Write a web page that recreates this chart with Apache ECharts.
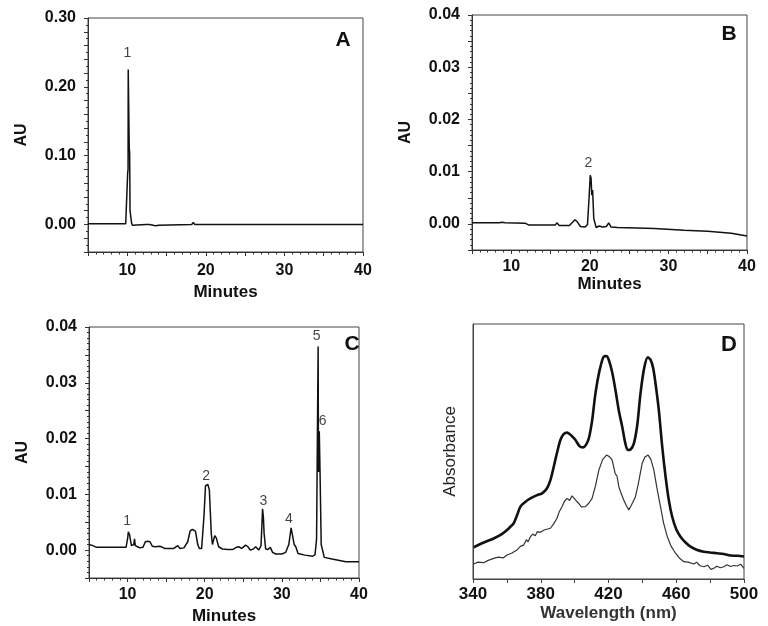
<!DOCTYPE html>
<html><head><meta charset="utf-8">
<script src="https://cdn.jsdelivr.net/npm/echarts@6/dist/echarts.min.js"></script>
<style>html,body{margin:0;padding:0;background:#fff}#c{width:768px;height:626px}</style>
</head><body><div id="c"></div>
<script>
// ---- Panel A: chromatogram ----
const timeA = [5, 9.8, 10.0, 10.05, 10.1, 10.12, 10.22, 10.25, 10.3, 10.35, 10.45, 10.55, 10.65, 10.8, 12.4, 12.6, 12.8, 13.0, 13.3, 13.6, 14.0, 14.2, 18.2, 18.4, 18.6, 40];
const auA   = [0.001, 0.001, 0.003, 0.075, 0.08, 0.225, 0.225, 0.11, 0.105, 0.02, 0.018, 0.002, -0.001, 0.0005, 0, -0.002, 0, -0.002, -0.001, -0.002, -0.001, 0, 0, 0.003, 0, 0];
const peaksA = [[10.0, 0.249, '1']];

// ---- Panel B ----
const timeB = [5, 8.5, 8.8, 9.2, 11.8, 12.2, 14, 15.6, 15.8, 16.1, 17.4, 17.8, 18.1, 18.4, 18.8, 19.4, 19.7, 19.9, 20.05, 20.15, 20.25, 20.35, 20.5, 20.8, 21.2, 21.4, 21.6, 22.1, 22.4, 22.7, 23.5, 26, 28.2, 28.4, 32, 35, 36.5, 38, 40];
const auB   = [0.0002, 0.0002, 0.0003, 0.0002, 0.0001, -0.0002, -0.0002, -0.0002, 0.0002, -0.0003, -0.0003, 0.0003, 0.0008, 0.0004, -0.0005, -0.0006, -0.0001, 0.005, 0.0093, 0.0088, 0.0055, 0.0065, 0.001, -0.0007, -0.0004, -0.0001, -0.0006, -0.0005, 0.0002, -0.0006, -0.0007, -0.0008, -0.0009, -0.0012, -0.0012, -0.0014, -0.0016, -0.0018, -0.0023];
const peaksB = [[19.8, 0.0116, '2']];

// ---- Panel C ----
const timeC = [5, 5.5, 6, 9.8, 10.0, 10.1, 10.25, 10.5, 10.8, 10.9, 11.0, 11.3, 11.6, 12.0, 12.3, 12.6, 12.9, 13.2, 13.6, 14.2, 14.8, 15.0, 16.0, 16.5, 16.8, 17.3, 17.8, 18.1, 18.4, 18.8, 19.1, 19.3, 19.6, 19.9, 20.1, 20.4, 20.6, 20.85, 21.0, 21.3, 21.5, 21.8, 22.3, 23.0, 23.6, 24.1, 24.4, 24.8, 25.3, 25.6, 25.9, 26.3, 26.6, 27.0, 27.3, 27.5, 27.6, 27.7, 27.9, 28.2, 28.5, 28.8, 29.2, 30.0, 30.5, 30.9, 31.2, 31.4, 31.6, 31.8, 32.1, 33.0, 34.0, 34.3, 34.5, 34.7, 34.75, 34.85, 34.95, 35.1, 35.5, 36.5, 38.3, 40];
const auC   = [0.0010, 0.0008, 0.0005, 0.0005, 0.0020, 0.0033, 0.0028, 0.0008, 0.0010, 0.0020, 0.0008, 0.0006, 0.0004, 0.0005, 0.0015, 0.0016, 0.0015, 0.0007, 0.0006, 0.0007, 0.0003, 0.0002, 0.0003, 0.0008, 0.0003, 0.0004, 0.0015, 0.0034, 0.0037, 0.0034, 0.0010, 0.0003, 0.0003, 0.0060, 0.0115, 0.0118, 0.0108, 0.0030, 0.0010, 0.0026, 0.0022, 0.0006, 0.0002, 0.0001, 0.0001, 0.0005, 0.0006, 0.0003, 0.0009, 0.0006, 0.0000, 0.0002, 0.0006, 0.0000, 0.0008, 0.0074, 0.0060, 0.0030, 0.0002, 0.0001, 0.0005, -0.0004, -0.0007, -0.0007, -0.0004, 0.0010, 0.0040, 0.0025, 0.0010, 0.0006, -0.0006, -0.0009, -0.0011, -0.0008, 0.0020, 0.0365, 0.0140, 0.0213, 0.0140, 0.0010, -0.0013, -0.0016, -0.0021, -0.0021];
const peaksC = [[9.95, 0.0052, '1'], [20.2, 0.0133, '2'], [27.6, 0.0088, '3'], [30.9, 0.0055, '4'], [34.5, 0.0383, '5'], [35.3, 0.0232, '6']];

// ---- Panel D: absorbance spectra (arbitrary units) ----
const waveThick = [340.4, 346, 352.2, 357, 360.1, 362.5, 364, 366, 368, 371, 373.9, 377.5, 380.8, 383.7, 385.8, 387.7, 389.6, 391.6, 393.5, 395.6, 398, 400.5, 403, 405, 406.7, 408.4, 410.3, 412.3, 414.8, 417.2, 418.8, 420.2, 422.2, 424.1, 426.1, 428.1, 430, 431.4, 433, 435, 437, 438.9, 441, 443.2, 444.8, 446.4, 448, 449.7, 451.7, 453.7, 455.6, 457.6, 460, 462.5, 465.5, 468.4, 472, 476.3, 480, 484.2, 488, 492.1, 496, 500];
const absThick  = [12.4, 14.2, 15.9, 17.6, 19.2, 20.8, 21.8, 25.0, 28.4, 30.3, 31.6, 32.8, 33.6, 35.6, 39.0, 44.1, 49.5, 54.5, 56.8, 57.4, 56.3, 54.5, 52.0, 51.6, 52.6, 55.2, 62.0, 72.8, 82.0, 87.2, 87.4, 85.9, 81.0, 74.1, 66.0, 59.7, 53.0, 50.6, 50.8, 53.2, 60.5, 72.8, 82.5, 86.9, 86.0, 82.6, 75.5, 66.3, 52.0, 40.1, 31.0, 24.4, 19.5, 16.6, 14.3, 12.7, 11.5, 10.7, 10.4, 10.1, 9.8, 9.2, 9.1, 8.8];
const waveThin = [340.4, 343, 346.3, 349, 352.2, 355, 358, 360.1, 363, 366, 368, 369.9, 371.5, 372.5, 373.9, 375.3, 376.8, 378, 379.8, 382, 385.7, 387.5, 389.6, 391, 392.6, 394, 395.6, 397, 398.5, 399.5, 401, 402.4, 404, 406.4, 408.5, 410.3, 412.3, 414.3, 416.5, 418.8, 420.5, 422.1, 424, 425, 426.1, 427.5, 429, 430.5, 432, 433.5, 435.9, 437.5, 439.9, 441.5, 443.4, 445, 446.8, 448.5, 450.7, 452.5, 454.7, 457, 459.6, 462, 464.5, 467, 470.4, 472, 474, 476.3, 478.5, 480.5, 482.2, 484, 486, 488.1, 490, 492, 494, 496, 498, 500];
const absThin  = [5.9, 6.6, 6.4, 7.3, 8.1, 8.6, 8.3, 9.4, 10.2, 11.4, 12.8, 13.3, 15.4, 14.6, 16.6, 17.6, 17.0, 18.6, 18.3, 19.2, 19.9, 21.5, 23.8, 26.5, 28.4, 30.5, 31.6, 30.8, 32.6, 31.8, 30.6, 29.7, 28.3, 28.4, 29.8, 31.6, 36.5, 42.7, 46.8, 48.6, 48.0, 46.7, 41.2, 40.4, 36.2, 33.5, 31.0, 28.8, 27.1, 28.9, 32.3, 37.0, 45.4, 47.8, 48.6, 46.9, 42.7, 36.0, 28.4, 22.0, 16.6, 12.8, 10.1, 8.1, 6.8, 6.6, 5.9, 6.6, 5.2, 4.8, 5.4, 3.8, 4.2, 5.0, 4.4, 4.8, 5.6, 4.9, 5.3, 5.1, 5.8, 4.2];

const zip = (a, b) => a.map((v, i) => [v, b[i]]);
const FONT = 'Liberation Sans, Arial, sans-serif';
const black = '#111';

function xAx(grid, name, gap, margin) {
  return {
    type: 'value', gridIndex: grid, min: 5, max: 40, interval: 5,
    name: name, nameLocation: 'middle', nameGap: gap,
    nameTextStyle: { fontFamily: FONT, fontSize: 17, fontWeight: 'bold', color: black },
    axisLine: { show: true, onZero: false, lineStyle: { color: '#333', width: 1 } },
    axisTick: { show: true, length: 4, lineStyle: { color: '#333' } },
    minorTick: { show: true, splitNumber: 5, length: 2.5, lineStyle: { color: '#333' } },
    splitLine: { show: false },
    axisLabel: { margin: margin, fontFamily: FONT, fontSize: 16, fontWeight: 'bold', color: black,
      formatter: v => (Math.round(v) % 10 === 0 ? String(Math.round(v)) : '') }
  };
}
function yAx(grid, min, max, interval, labelStep, minorSplit, gap) {
  return {
    type: 'value', gridIndex: grid, min: min, max: max, interval: interval,
    name: 'AU', nameLocation: 'middle', nameRotate: 90, nameGap: gap,
    nameTextStyle: { fontFamily: FONT, fontSize: 16, fontWeight: 'bold', color: black },
    axisLine: { show: true, onZero: false, lineStyle: { color: '#333', width: 1 } },
    axisTick: { show: true, length: 4, lineStyle: { color: '#333' } },
    minorTick: { show: true, splitNumber: minorSplit, length: 2, lineStyle: { color: '#333' } },
    splitLine: { show: false },
    axisLabel: { margin: 12, fontFamily: FONT, fontSize: 16, fontWeight: 'bold', color: black,
      formatter: v => {
        const k = Math.round(v / labelStep * 1000) / 1000;
        if (Math.abs(k - Math.round(k)) > 1e-6 || Math.round(k) < 0) return '';
        return Math.abs(v) < 1e-9 ? '0.00' : v.toFixed(2);
      } }
  };
}
function lineS(xi, data, width, color) {
  return { type: 'line', xAxisIndex: xi, yAxisIndex: xi, data: data, showSymbol: false, symbol: 'none',
    lineStyle: { width: width, color: color }, silent: true, animation: false, z: 3 };
}
function peakS(xi, peaks) {
  return { type: 'scatter', xAxisIndex: xi, yAxisIndex: xi, symbolSize: 0, silent: true, animation: false,
    data: peaks.map(p => ({ value: [p[0], p[1]], name: p[2] })),
    label: { show: true, position: 'inside', formatter: '{b}', fontFamily: FONT, fontSize: 14, color: black } };
}

const gridStyle = { show: true, borderColor: '#444', borderWidth: 1, backgroundColor: 'transparent' };
const option = {
  animation: false,
  backgroundColor: '#fff',
  grid: [
    Object.assign({ left: 88, top: 18, width: 275, height: 234 }, gridStyle),
    Object.assign({ left: 472, top: 15, width: 275, height: 235 }, gridStyle),
    Object.assign({ left: 89, top: 327, width: 270, height: 251 }, gridStyle),
    Object.assign({ left: 473, top: 324, width: 271, height: 255 }, gridStyle)
  ],
  xAxis: [
    xAx(0, 'Minutes', 32, 11),
    xAx(1, 'Minutes', 26, 9),
    xAx(2, 'Minutes', 30, 9),
    {
      type: 'value', gridIndex: 3, min: 340, max: 500, interval: 20,
      name: 'Wavelength (nm)', nameLocation: 'middle', nameGap: 26,
      nameTextStyle: { fontFamily: FONT, fontSize: 17, fontWeight: 'bold', color: '#333' },
      axisLine: { show: true, onZero: false, lineStyle: { color: '#444' } },
      axisTick: { show: true, length: 4, lineStyle: { color: '#444' } },
      splitLine: { show: false },
      axisLabel: { margin: 7, fontFamily: FONT, fontSize: 17, fontWeight: 'bold', color: black,
        formatter: v => (Math.round(v - 340) % 40 === 0 ? String(Math.round(v)) : '') }
    }
  ],
  yAxis: [
    yAx(0, -0.04, 0.30, 0.02, 0.1, 2, 58),
    yAx(1, -0.005, 0.04, 0.005, 0.01, 5, 58),
    yAx(2, -0.005, 0.04, 0.005, 0.01, 5, 58),
    {
      type: 'value', gridIndex: 3, min: 0, max: 100,
      name: 'Absorbance', nameLocation: 'middle', nameRotate: 90, nameGap: 14,
      nameTextStyle: { fontFamily: FONT, fontSize: 17, color: '#222' },
      axisLine: { show: true, onZero: false, lineStyle: { color: '#444' } },
      axisTick: { show: false }, axisLabel: { show: false }, splitLine: { show: false }
    }
  ],
  series: [
    lineS(0, zip(timeA, auA), 1.5, '#111'),
    peakS(0, peaksA),
    lineS(1, zip(timeB, auB), 1.5, '#111'),
    peakS(1, peaksB),
    lineS(2, zip(timeC, auC), 1.5, '#111'),
    peakS(2, peaksC),
    Object.assign(lineS(3, zip(waveThick, absThick), 2.6, '#111'), { smooth: 0.3 }),
    lineS(3, zip(waveThin, absThin), 1.2, '#333')
  ],
  graphic: [
    { type: 'text', x: 343, y: 40, style: { text: 'A', fontFamily: FONT, fontSize: 21, fontWeight: 'bold', fill: black, textAlign: 'center', textVerticalAlign: 'middle' } },
    { type: 'text', x: 729, y: 34, style: { text: 'B', fontFamily: FONT, fontSize: 21, fontWeight: 'bold', fill: black, textAlign: 'center', textVerticalAlign: 'middle' } },
    { type: 'text', x: 352, y: 344, style: { text: 'C', fontFamily: FONT, fontSize: 21, fontWeight: 'bold', fill: black, textAlign: 'center', textVerticalAlign: 'middle' } },
    { type: 'text', x: 729, y: 345, style: { text: 'D', fontFamily: FONT, fontSize: 22, fontWeight: 'bold', fill: black, textAlign: 'center', textVerticalAlign: 'middle' } }
  ]
};
const chart = echarts.init(document.getElementById('c'), null, { renderer: 'canvas' });
chart.setOption(option);
</script></body></html>
